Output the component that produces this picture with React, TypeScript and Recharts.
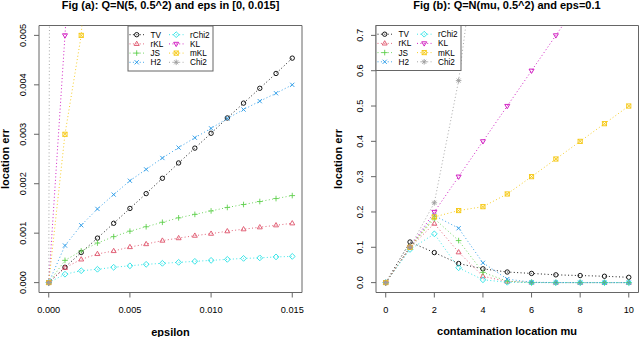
import React from 'react';
import { LineChart, Line, XAxis, YAxis, ReferenceArea } from 'recharts';

// panel (a): location error vs contamination proportion
const epsValues = [0, 0.001, 0.002, 0.003, 0.004, 0.005, 0.006, 0.007, 0.008, 0.009, 0.01, 0.011, 0.012, 0.013, 0.014, 0.015];
const tvA = [0, 0.00031, 0.00061, 0.0009, 0.0012, 0.0015, 0.0018, 0.00211, 0.00242, 0.00272, 0.00302, 0.00333, 0.00363, 0.00393, 0.00423, 0.00454];
const rklA = [0, 0.0003, 0.00047, 0.00058, 0.00064, 0.00072, 0.00078, 0.00085, 0.0009, 0.00095, 0.00099, 0.00104, 0.00108, 0.00112, 0.00116, 0.0012];
const jsA = [0, 0.00045, 0.00064, 0.0008, 0.00093, 0.00104, 0.00113, 0.00122, 0.00131, 0.00138, 0.00145, 0.00152, 0.00158, 0.00164, 0.0017, 0.00176];
const h2A = [0, 0.00075, 0.00116, 0.00149, 0.00178, 0.00206, 0.00229, 0.00252, 0.00273, 0.00293, 0.00312, 0.00332, 0.0035, 0.00367, 0.00383, 0.004];
const rchi2A = [0, 0.00017, 0.00024, 0.00027, 0.00031, 0.00034, 0.00037, 0.00039, 0.00041, 0.00043, 0.00045, 0.00047, 0.00049, 0.0005, 0.00052, 0.00053];
const klA = [0, 0.005, 0.0102, 0.0156, 0.0212, 0.027, 0.033, 0.039, 0.045, 0.051, 0.058, 0.064, 0.071, 0.078, 0.085, 0.092];
const mklA = [0, 0.003, 0.005, 0.0098, 0.0147, 0.0197, 0.0248, 0.03, 0.035, 0.04, 0.046, 0.051, 0.057, 0.062, 0.068, 0.074];
const chi2A = [0, 0.12, 0.25, 0.38, 0.51, 0.64, 0.77, 0.9, 1.03, 1.16, 1.29, 1.42, 1.55, 1.68, 1.81, 1.94];
const epsTicks = [0, 0.005, 0.01, 0.015];
const errTicksA = [0, 0.001, 0.002, 0.003, 0.004, 0.005];

// panel (b): location error vs contamination location
const muValues = [0, 1, 2, 3, 4, 5, 6, 7, 8, 9, 10];
const tvB = [0, 0.115, 0.085, 0.054, 0.039, 0.03, 0.026, 0.022, 0.02, 0.018, 0.015];
const rklB = [0, 0.1, 0.167, 0.086, 0.018, 0.003, 0.0005, 0, 0, 0, 0];
const jsB = [0, 0.1, 0.181, 0.119, 0.029, 0.004, 0.0005, 0, 0, 0, 0];
const h2B = [0, 0.1, 0.19, 0.154, 0.056, 0.01, 0.001, 0.0002, 0, 0, 0];
const rchi2B = [0, 0.094, 0.138, 0.042, 0.008, 0.001, 0, 0, 0, 0, 0];
const klB = [0, 0.1, 0.2, 0.3, 0.4, 0.5, 0.6, 0.7, 0.8, 0.9, 1.0];
const mklB = [0, 0.1, 0.186, 0.204, 0.215, 0.251, 0.3, 0.35, 0.4, 0.45, 0.5];
const chi2B = [0, 0.1, 0.226, 0.572, 1.1, 1.7, 2.4, 3.2, 4.1, 5.1, 6.2];
const muTicks = [0, 2, 4, 6, 8, 10];
const errTicksB = [0, 0.1, 0.2, 0.3, 0.4, 0.5, 0.6, 0.7];

const seriesNames = ['TV', 'rKL', 'JS', 'H2', 'rChi2', 'KL', 'mKL', 'Chi2'];
const seriesA = [tvA, rklA, jsA, h2A, rchi2A, klA, mklA, chi2A];
const seriesB = [tvB, rklB, jsB, h2B, rchi2B, klB, mklB, chi2B];

const styles: Record<string, { color: string; shape: string }> = {
  TV: { color: '#000000', shape: 'circle' },
  rKL: { color: '#DF536B', shape: 'tri' },
  JS: { color: '#61D04F', shape: 'plus' },
  H2: { color: '#2297E6', shape: 'cross' },
  rChi2: { color: '#28E2E5', shape: 'diamond' },
  KL: { color: '#CD0BBC', shape: 'triDown' },
  mKL: { color: '#F5C710', shape: 'boxX' },
  Chi2: { color: '#9E9E9E', shape: 'star' },
};

const dataA = epsValues.map((x, i) => {
  const row: any = { x };
  seriesNames.forEach((n, k) => (row[n] = seriesA[k][i]));
  return row;
});
const dataB = muValues.map((x, i) => {
  const row: any = { x };
  seriesNames.forEach((n, k) => (row[n] = seriesB[k][i]));
  return row;
});

const FONT = '"Liberation Sans", Arial, Helvetica, sans-serif';
const FRAME = '#666';
const DASH = '1 2.4';

function Marker({ cx, cy, shape, color }: { cx: number; cy: number; shape: string; color: string }) {
  const p = { stroke: color, strokeWidth: 0.9, fill: 'none' };
  switch (shape) {
    case 'circle':
      return <circle cx={cx} cy={cy} r={2.2} {...p} />;
    case 'tri':
      return <polygon points={`${cx},${cy - 2.7} ${cx - 2.5},${cy + 1.6} ${cx + 2.5},${cy + 1.6}`} {...p} />;
    case 'triDown':
      return <polygon points={`${cx},${cy + 2.7} ${cx - 2.5},${cy - 1.6} ${cx + 2.5},${cy - 1.6}`} {...p} />;
    case 'plus':
      return <path d={`M${cx - 2.8},${cy}H${cx + 2.8}M${cx},${cy - 2.8}V${cy + 2.8}`} {...p} />;
    case 'cross':
      return <path d={`M${cx - 2.1},${cy - 2.1}L${cx + 2.1},${cy + 2.1}M${cx - 2.1},${cy + 2.1}L${cx + 2.1},${cy - 2.1}`} {...p} />;
    case 'diamond':
      return <polygon points={`${cx},${cy - 2.9} ${cx + 2.9},${cy} ${cx},${cy + 2.9} ${cx - 2.9},${cy}`} {...p} />;
    case 'boxX':
      return (
        <g {...p}>
          <rect x={cx - 2.1} y={cy - 2.1} width={4.2} height={4.2} />
          <path d={`M${cx - 2.1},${cy - 2.1}L${cx + 2.1},${cy + 2.1}M${cx - 2.1},${cy + 2.1}L${cx + 2.1},${cy - 2.1}`} />
        </g>
      );
    default:
      return (
        <path
          d={`M${cx - 2.8},${cy}H${cx + 2.8}M${cx},${cy - 2.8}V${cy + 2.8}M${cx - 2},${cy - 2}L${cx + 2},${cy + 2}M${cx - 2},${cy + 2}L${cx + 2},${cy - 2}`}
          {...p}
        />
      );
  }
}

const makeDot = (name: string) => (props: any) => {
  const { cx, cy, index } = props;
  if (cx == null || cy == null || !isFinite(cx) || !isFinite(cy)) return <g key={index} />;
  return (
    <g key={index}>
      <Marker cx={cx} cy={cy} shape={styles[name].shape} color={styles[name].color} />
    </g>
  );
};

function YTick(props: any) {
  const { x, y, payload, digits } = props;
  return (
    <text x={x} y={y} transform={`rotate(-90 ${x} ${y})`} textAnchor="middle" fontSize={9.2} fill="#000" fontFamily={FONT}>
      {Number(payload.value).toFixed(digits)}
    </text>
  );
}

function Panel({ data, xDomain, yDomain, xTicks, yTicks, xDigits, yDigits, yWidth, rightMargin }: any) {
  return (
    <LineChart width={320} height={337} data={data} margin={{ top: 25.5, right: rightMargin, bottom: 0, left: 0 }}>
      <XAxis
        dataKey="x"
        type="number"
        domain={xDomain}
        ticks={xTicks}
        allowDataOverflow
        interval={0}
        axisLine={false}
        tickLine={{ stroke: FRAME }}
        tickSize={5}
        tickMargin={9}
        height={44.5}
        tick={{ fontSize: 9.2, fill: '#000' }}
        tickFormatter={(v: number) => v.toFixed(xDigits)}
      />
      <YAxis
        type="number"
        domain={yDomain}
        ticks={yTicks}
        allowDataOverflow
        interval={0}
        width={yWidth}
        axisLine={false}
        tickLine={{ stroke: FRAME }}
        tickSize={5}
        tickMargin={8}
        tick={<YTick digits={yDigits} />}
      />
      <ReferenceArea x1={xDomain[0]} x2={xDomain[1]} y1={yDomain[0]} y2={yDomain[1]} fill="none" fillOpacity={0} stroke={FRAME} strokeWidth={1} ifOverflow="visible" />
      {seriesNames.map((n) => (
        <Line
          key={n}
          dataKey={n}
          stroke={styles[n].color}
          strokeWidth={0.9}
          strokeDasharray={DASH}
          dot={makeDot(n)}
          activeDot={false}
          isAnimationActive={false}
        />
      ))}
    </LineChart>
  );
}

function LegendBox({ left, top }: { left: number; top: number }) {
  const rowH = 9.2;
  return (
    <g>
      <rect x={left} y={top} width={85} height={45} fill="#fff" stroke={FRAME} strokeWidth={1} />
      {seriesNames.map((n, i) => {
        const col = Math.floor(i / 4);
        const row = i % 4;
        const lx = left + (col === 0 ? 1.5 : 41);
        const cy = top + 8.7 + row * rowH;
        return (
          <g key={n}>
            <line x1={lx} x2={lx + 14.5} y1={cy} y2={cy} stroke={styles[n].color} strokeWidth={0.9} strokeDasharray={DASH} />
            <Marker cx={lx + 7.2} cy={cy} shape={styles[n].shape} color={styles[n].color} />
            <text x={lx + 21} y={cy + 3} fontSize={8.2} fill="#000" fontFamily={FONT}>
              {n}
            </text>
          </g>
        );
      })}
    </g>
  );
}

export default function App() {
  return (
    <div style={{ position: 'absolute', left: 0, top: 0, width: 640, height: 337, background: '#fff', fontFamily: FONT, overflow: 'hidden' }}>
      <div style={{ position: 'absolute', left: 0, top: 0 }}>
        <Panel data={dataA} xDomain={[-0.0006, 0.0156]} yDomain={[-0.0002, 0.0052]} xTicks={epsTicks} yTicks={errTicksA} xDigits={3} yDigits={3} yWidth={39} rightMargin={18} />
      </div>
      <div style={{ position: 'absolute', left: 320, top: 0 }}>
        <Panel data={dataB} xDomain={[-0.4, 10.4]} yDomain={[-0.028, 0.728]} xTicks={muTicks} yTicks={errTicksB} xDigits={0} yDigits={1} yWidth={56} rightMargin={1.5} />
      </div>
      <svg width={640} height={337} style={{ position: 'absolute', left: 0, top: 0 }} fontFamily={FONT}>
        <text x={170.5} y={9} textAnchor="middle" fontSize={11} fontWeight="bold">Fig (a): Q=N(5, 0.5^2) and eps in [0, 0.015]</text>
        <text x={507} y={9} textAnchor="middle" fontSize={11} fontWeight="bold">Fig (b): Q=N(mu, 0.5^2) and eps=0.1</text>
        <text x={170.5} y={335.5} textAnchor="middle" fontSize={11} fontWeight="bold">epsilon</text>
        <text x={507} y={335} textAnchor="middle" fontSize={11} fontWeight="bold">contamination location mu</text>
        <text x={8.5} y={159} transform="rotate(-90 8.5 159)" textAnchor="middle" fontSize={11} fontWeight="bold">location err</text>
        <text x={341.5} y={159} transform="rotate(-90 341.5 159)" textAnchor="middle" fontSize={11} fontWeight="bold">location err</text>
        <LegendBox left={128} top={26} />
        <LegendBox left={376} top={25.5} />
      </svg>
    </div>
  );
}
